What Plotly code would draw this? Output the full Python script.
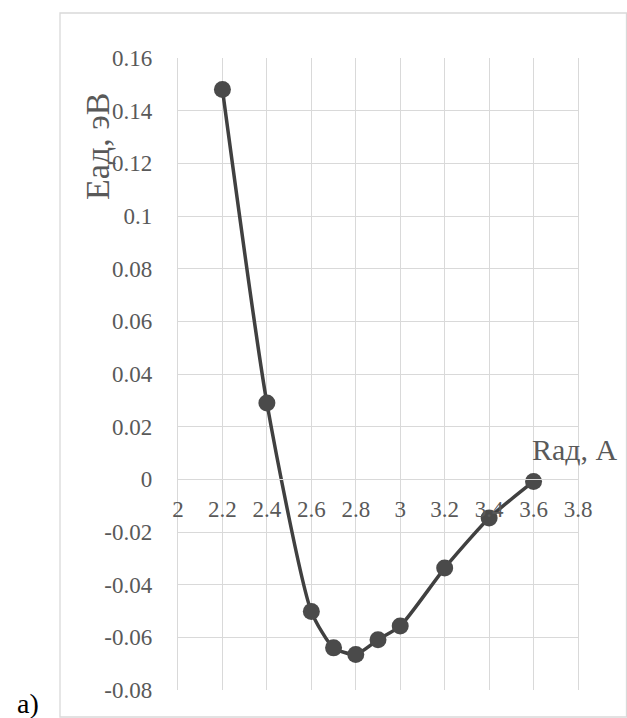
import plotly.graph_objects as go

# Data
r_values = [2.2, 2.4, 2.6, 2.7, 2.8, 2.9, 3.0, 3.2, 3.4, 3.6]
e_values = [0.148, 0.029, -0.0502, -0.064, -0.0665, -0.0609, -0.0557, -0.0337, -0.0147, -0.0008]

x_tickvals = [2, 2.2, 2.4, 2.6, 2.8, 3, 3.2, 3.4, 3.6, 3.8]
x_ticktext = ["2", "2.2", "2.4", "2.6", "2.8", "3", "3.2", "3.4", "3.6", "3.8"]
y_tickvals = [0.16, 0.14, 0.12, 0.1, 0.08, 0.06, 0.04, 0.02, 0, -0.02, -0.04, -0.06, -0.08]
y_ticktext = ["0.16", "0.14", "0.12", "0.1", "0.08", "0.06", "0.04", "0.02", "0",
              "-0.02", "-0.04", "-0.06", "-0.08"]

x_title = "Rад, А"
y_title = "Eад, эВ"
panel_label = "a)"

FONT = "Liberation Serif"
GRAY = "#595959"
GRID = "#d9d9d9"

fig = go.Figure()
fig.add_trace(go.Scatter(
    x=r_values, y=e_values, mode="lines+markers",
    line=dict(color="#404040", width=3.5, shape="spline", smoothing=0.6),
    marker=dict(color="#4a4a4a", size=17),
    showlegend=False,
))

y_min, y_max = -0.08, 0.16
fig.update_layout(
    width=627, height=718,
    margin=dict(l=178, r=49, t=58, b=28),
    paper_bgcolor="white", plot_bgcolor="white",
    font=dict(family=FONT, color=GRAY, size=23),
    xaxis=dict(
        range=[2, 3.8], tickvals=x_tickvals, ticktext=x_ticktext,
        showgrid=True, gridcolor=GRID, gridwidth=1.3,
        zeroline=False, showline=True, mirror=True, linecolor=GRID, linewidth=1.3,
        anchor="free", position=(0 - y_min) / (y_max - y_min),
        ticks="", ticklabelstandoff=9,
        tickfont=dict(family=FONT, color=GRAY, size=23),
    ),
    yaxis=dict(
        range=[y_min, y_max], tickvals=y_tickvals, ticktext=y_ticktext,
        showgrid=True, gridcolor=GRID, gridwidth=1.3,
        zeroline=True, zerolinecolor=GRID, zerolinewidth=1.3,
        showline=True, mirror=True, linecolor=GRID, linewidth=1.3,
        ticks="", ticklabelstandoff=20,
        tickfont=dict(family=FONT, color=GRAY, size=23),
    ),
)

# outer chart border
fig.add_shape(type="rect", xref="paper", yref="paper",
              x0=(60 - 178) / 400, x1=(626.5 - 178) / 400,
              y0=(690 - 717) / 632, y1=(690 - 13) / 632,
              line=dict(color=GRID, width=1.3), fillcolor="rgba(0,0,0,0)", layer="below")

fig.add_annotation(text=y_title, xref="paper", yref="paper",
                   x=(97 - 178) / 400, y=(690 - 147) / 632, showarrow=False,
                   textangle=-90, font=dict(family=FONT, color=GRAY, size=34),
                   xanchor="center", yanchor="middle")
fig.add_annotation(text=x_title, xref="paper", yref="paper",
                   x=(575 - 178) / 400, y=(690 - 449) / 632, showarrow=False,
                   font=dict(family=FONT, color=GRAY, size=30),
                   xanchor="center", yanchor="middle")
fig.add_annotation(text=panel_label, xref="paper", yref="paper",
                   x=(28 - 178) / 400, y=(690 - 704) / 632, showarrow=False,
                   font=dict(family=FONT, color="black", size=28),
                   xanchor="center", yanchor="middle")

fig.write_html("out.html")
